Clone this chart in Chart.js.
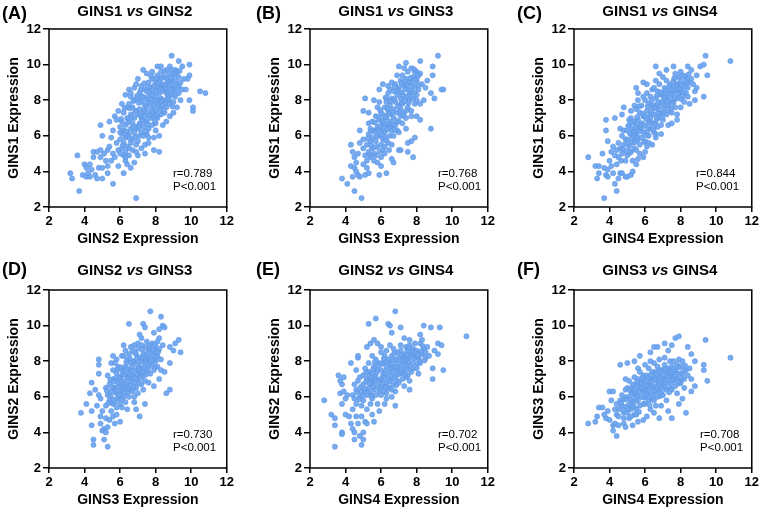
<!DOCTYPE html>
<html>
<head>
<meta charset="utf-8">
<script src="https://cdn.jsdelivr.net/npm/chart.js@4"></script>
<style>
  body { margin: 0; background: #fff; }
  #wrap { position: relative; width: 761px; height: 512px; overflow: hidden; }
  #wrap canvas { position: absolute; }
  .tag { position: absolute; font: bold 18px "Liberation Sans", Arial, sans-serif; line-height: 18px; color: #000; }
</style>
</head>
<body>
<div id="wrap">
  <canvas id="cA" width="236" height="256" style="left:0;top:0"></canvas>
  <canvas id="cB" width="236" height="256" style="left:261px;top:0"></canvas>
  <canvas id="cC" width="236" height="256" style="left:525px;top:0"></canvas>
  <canvas id="cD" width="236" height="256" style="left:0;top:256px"></canvas>
  <canvas id="cE" width="236" height="256" style="left:261px;top:256px"></canvas>
  <canvas id="cF" width="236" height="256" style="left:525px;top:256px"></canvas>
  <div class="tag" style="left:2px;top:4px">(A)</div>
  <div class="tag" style="left:256px;top:4px">(B)</div>
  <div class="tag" style="left:517px;top:4px">(C)</div>
  <div class="tag" style="left:2px;top:260px">(D)</div>
  <div class="tag" style="left:256px;top:260px">(E)</div>
  <div class="tag" style="left:517px;top:260px">(F)</div>
</div>
<script>
// panel labels and stats
const xGenes = ["GINS2", "GINS3", "GINS4", "GINS3", "GINS4", "GINS4"];
const yGenes = ["GINS1", "GINS1", "GINS1", "GINS2", "GINS2", "GINS3"];
const rValues = ["0.789", "0.768", "0.844", "0.730", "0.702", "0.708"];
const pText = "P<0.001";
const tickValues = [2, 4, 6, 8, 10, 12];

// (A) GINS1 vs GINS2  [GINS2, GINS1]
const gins1Gins2 = [
  [3.2,3.9],[3.3,3.6],[3.6,4.9],[3.7,2.9],[3.9,3.8],[4.0,4.4],[4.1,3.7],[4.1,4.2],[4.2,3.9],[4.3,4.4],[4.3,3.7],[4.4,4.1],
  [4.5,5.1],[4.5,4.8],[4.6,3.8],[4.7,3.6],[4.7,5.1],[4.8,4.2],[4.9,4.8],[4.9,5.2],[4.9,6.6],[5.0,4.2],[5.0,3.6],[5.0,6.0],
  [5.1,5.0],[5.2,4.6],[5.3,5.2],[5.3,4.3],[5.3,3.9],[5.4,5.4],[5.4,6.8],[5.5,4.6],[5.5,5.9],[5.6,3.3],[5.6,5.0],[5.6,6.3],
  [5.7,4.8],[5.7,7.1],[5.8,5.6],[5.8,6.9],[5.9,4.3],[5.9,7.4],
  [6.1,7.8],[6.3,8.3],[6.5,8.6],[6.6,8.2],[6.8,8.7],[6.9,8.9],[7.0,9.2],[7.3,9.7],[7.5,9.5],[7.8,9.6],[8.1,9.9],[8.3,9.9],
  [8.6,9.7],[8.8,9.9],[8.9,10.5],[9.1,9.7],[9.3,10.2],[9.5,9.9],[9.9,10.0],[9.9,9.4],[9.8,9.2],[10.5,8.5],[10.8,8.4],[9.9,8.0],
  [10.1,7.6],[10.1,7.4],[9.3,8.8],[9.5,8.6],[9.2,7.6],[9.0,7.3],[8.8,7.1],[9.4,8.0],
  [6.2,3.9],[6.3,4.6],[6.4,4.4],[6.6,4.2],[6.9,2.5],[6.8,4.5],[7.0,4.9],[7.2,5.3],[7.4,5.0],[7.4,5.5],[7.6,5.6],[7.9,5.2],
  [8.2,5.1],[7.9,5.9],[8.2,6.0],[8.0,6.3],[8.4,6.6],[8.6,6.8],
  [6.0,5.0],[6.1,5.3],[6.2,5.6],[6.0,5.8],[6.3,5.9],[6.1,6.1],[6.2,6.3],[6.4,6.0],[6.0,6.5],[6.3,6.6],[6.1,6.8],[6.4,7.0],
  [6.2,7.3],[6.4,5.4],[6.3,5.1],[6.4,7.6],[6.2,4.9],[6.5,4.9],
  [6.5,5.3],[6.6,5.6],[6.7,5.8],[6.5,6.1],[6.8,6.2],[6.6,6.4],[6.9,6.5],[6.7,6.7],[6.5,6.9],[6.8,7.0],[6.6,7.2],[6.9,7.4],
  [6.7,7.6],[6.5,7.8],[6.8,8.0],[6.9,5.5],[6.7,5.2],[6.6,8.4],
  [7.0,5.7],[7.1,6.0],[7.2,6.2],[7.0,6.4],[7.3,6.5],[7.1,6.7],[7.4,6.8],[7.2,7.0],[7.0,7.2],[7.3,7.3],[7.1,7.5],[7.4,7.7],
  [7.2,7.9],[7.0,8.1],[7.3,8.2],[7.1,8.4],[7.4,8.6],[7.2,8.8],[7.3,6.0],[7.4,7.1],
  [7.5,6.1],[7.6,6.4],[7.8,6.6],[7.5,6.8],[7.7,7.0],[7.9,7.1],[7.6,7.3],[7.8,7.5],[7.5,7.6],[7.7,7.8],[7.9,8.0],[7.6,8.2],
  [7.8,8.3],[7.5,8.5],[7.7,8.7],[7.9,8.8],[7.6,9.0],[7.8,9.2],[7.5,8.0],[7.9,7.7],
  [8.0,6.7],[8.1,7.0],[8.3,7.2],[8.0,7.4],[8.2,7.6],[8.4,7.7],[8.1,7.9],[8.3,8.1],[8.0,8.2],[8.2,8.4],[8.4,8.5],[8.1,8.7],
  [8.3,8.8],[8.0,9.0],[8.2,9.1],[8.4,9.3],[8.1,9.4],[8.3,9.6],[8.2,8.0],[8.4,8.9],
  [8.5,7.3],[8.6,7.6],[8.8,7.8],[8.5,8.0],[8.7,8.2],[8.9,8.3],[8.6,8.5],[8.8,8.7],[8.5,8.8],[8.7,9.0],[8.9,9.1],[8.6,9.3],
  [8.8,9.5],[8.5,9.6],[8.7,8.0],[8.9,8.9],
  [9.0,7.9],[9.1,8.2],[9.3,8.4],[9.0,8.6],[9.2,8.9],[9.1,9.1],[9.3,9.3],[9.0,9.4],[9.2,9.6],[9.4,9.0],[9.1,8.7],
  [6.15,5.45],[6.35,6.25],[6.05,6.95],[6.25,7.55],[6.45,6.75],[6.55,5.85],[6.75,6.45],[6.65,7.05],[6.85,7.35],[6.55,7.55],
  [6.75,7.95],[6.95,8.25],[6.85,5.95],[7.05,6.55],[7.25,6.85],[7.15,7.15],[7.35,7.45],[7.05,7.85],[7.25,8.15],[7.15,8.55],
  [7.35,8.95],[7.45,6.25],[7.55,6.65],[7.65,7.15],[7.85,7.35],[7.55,7.85],[7.75,8.05],[7.65,8.45],[7.85,8.55],[7.55,8.75],
  [7.75,9.35],[7.95,6.85],[8.05,7.15],[8.25,7.45],[8.15,7.75],[8.35,7.95],[8.05,8.45],[8.25,8.65],[8.15,8.95],[8.35,9.25],
  [8.05,9.25],[8.45,7.45],[8.55,7.85],[8.75,8.05],[8.65,8.35],[8.85,8.45],[8.55,8.65],[8.75,8.85],[8.65,9.15],[8.85,9.25],
  [8.95,7.65],[9.05,8.35],[9.25,8.65],[9.15,9.45],[9.35,9.65],[6.3,4.8],[6.9,5.1],[7.6,5.9],[5.9,5.2],[6.0,6.2],
  [8.9,9.7],[9.6,9.2],[9.7,8.6]
];

// (B) GINS1 vs GINS3  [GINS3, GINS1]
const gins1Gins3 = [
  [3.8,3.6],[4.1,3.3],[4.5,2.9],[4.9,2.5],[4.3,5.5],[4.4,5.1],[4.3,4.3],[4.5,4.2],[4.4,3.7],[4.6,4.0],[4.7,3.8],[4.8,3.7],
  [4.6,4.5],[4.5,4.8],[4.7,5.0],[4.8,5.6],[4.8,6.3],[5.0,7.4],[5.1,8.1],[5.3,7.3],[5.3,6.7],[5.0,4.4],[5.1,3.8],[5.2,4.2],
  [5.3,3.9],[5.0,5.8],[5.9,3.8],[6.3,3.9],[6.0,4.3],[6.7,4.5],[7.0,5.2],[7.1,5.2],[7.5,5.1],[7.5,5.6],[7.7,5.7],[7.9,5.9],
  [7.8,4.8],[7.7,7.1],[8.0,7.1],[8.8,6.4],[8.2,6.9],[8.2,7.8],[8.4,8.0],[8.5,8.7],[8.8,8.4],[9.0,8.1],[9.4,8.6],[9.5,8.6],
  [9.2,10.5],[8.9,9.9],[8.9,9.4],[8.6,9.1],[8.2,10.2],[8.2,9.5],[7.4,10.1],[7.0,9.9],[6.4,8.8],[5.9,8.6],[6.1,8.9],[6.3,8.1],
  [6.6,9.0],[5.6,8.0],[8.3,8.9],[8.0,9.6],
  [5.2,4.6],[5.4,4.8],[5.3,5.1],[5.5,5.3],[5.2,5.5],[5.4,5.7],[5.6,5.0],[5.5,5.9],[5.3,6.1],[5.6,6.3],[5.4,6.4],[5.6,4.6],[5.5,6.8],
  [5.7,4.9],[5.9,5.1],[5.8,5.4],[6.0,5.5],[5.7,5.7],[6.1,5.8],[5.9,6.0],[5.7,6.2],[6.0,6.3],[5.8,6.5],[6.1,6.7],[5.9,6.9],
  [5.7,7.1],[6.0,7.3],[5.8,7.6],[6.1,5.2],[6.0,4.8],[5.9,7.9],
  [6.2,5.4],[6.4,5.6],[6.3,5.9],[6.5,6.0],[6.2,6.2],[6.6,6.3],[6.4,6.5],[6.2,6.7],[6.5,6.8],[6.3,7.0],[6.6,7.2],[6.4,7.4],
  [6.2,7.6],[6.5,7.7],[6.3,7.9],[6.6,8.1],[6.4,8.4],[6.2,5.0],[6.6,5.5],[6.5,8.6],
  [6.7,6.0],[6.9,6.3],[6.8,6.6],[7.0,6.8],[6.7,7.0],[7.1,7.1],[6.9,7.3],[6.7,7.5],[7.0,7.7],[6.8,7.9],[7.1,8.1],[6.9,8.3],
  [6.7,8.5],[7.0,8.7],[6.8,8.9],[7.1,9.1],[6.9,9.4],[7.0,6.2],[7.1,7.5],
  [7.2,6.7],[7.4,7.0],[7.3,7.3],[7.5,7.6],[7.2,7.8],[7.6,8.0],[7.4,8.2],[7.2,8.4],[7.5,8.6],[7.3,8.8],[7.6,9.0],[7.4,9.2],
  [7.2,9.4],[7.5,9.6],[7.3,9.8],[7.6,8.4],[7.4,6.4],
  [7.7,7.4],[7.9,7.8],[7.8,8.1],[8.0,8.3],[7.7,8.5],[8.1,8.6],[7.9,8.8],[7.7,9.0],[8.0,9.1],[7.8,9.3],[8.1,9.4],[7.9,9.6],
  [7.7,9.8],[8.0,8.0],
  [5.35,4.95],[5.45,5.45],[5.25,5.85],[5.45,6.25],[5.65,5.35],[5.75,5.95],[5.85,6.35],[5.65,6.75],[5.95,6.55],[5.85,7.05],
  [6.05,6.05],[6.15,6.45],[6.05,6.85],[6.15,7.15],[5.95,7.45],[6.25,5.75],[6.35,6.35],[6.45,6.65],[6.25,7.05],[6.45,7.25],
  [6.35,7.55],[6.55,7.95],[6.25,8.15],[6.55,6.55],[6.75,6.35],[6.85,6.85],[6.65,7.35],[6.95,7.65],[6.75,8.05],[6.95,8.55],
  [6.75,8.75],[6.65,6.65],[7.05,7.35],[7.15,7.85],[7.25,8.25],[7.05,8.45],[7.35,8.65],[7.15,8.95],[7.35,9.05],[7.25,7.15],
  [7.45,7.45],[7.55,7.85],[7.35,7.95],[7.65,8.25],[7.45,8.85],[7.65,9.25],[7.85,8.45],[7.75,8.75],[7.95,9.15],[7.85,9.75],
  [8.15,8.85],[8.05,9.35],[6.6,4.7],[5.8,4.5],[6.45,5.2],[5.1,4.9],[5.0,5.3]
];

// (C) GINS1 vs GINS4  [GINS4, GINS1]
const gins1Gins4 = [
  [2.8,4.8],[3.2,4.3],[3.4,4.3],[3.3,3.6],[3.4,3.9],[3.7,2.5],[3.6,5.0],[3.7,4.2],[3.8,3.8],[3.9,4.1],[3.9,3.7],[3.8,6.3],
  [3.8,6.9],[3.9,5.7],[4.0,4.6],[4.1,4.3],[4.1,5.1],[4.2,3.9],[4.2,5.4],[4.3,7.0],[4.3,3.3],[4.4,2.9],[4.4,4.4],[4.5,3.6],
  [4.6,6.4],[4.6,3.9],[4.7,7.2],[4.7,3.9],[4.8,7.6],[4.9,3.7],[5.0,3.7],[5.1,6.9],[5.2,3.8],[5.3,4.0],[5.5,8.7],[5.6,8.4],
  [5.9,9.0],[6.1,8.9],[6.6,9.9],[6.8,9.5],[7.2,9.7],[7.6,9.9],[8.0,9.6],[8.4,9.9],[8.6,9.7],[8.9,9.4],[9.1,9.9],[9.3,10.0],
  [9.4,10.5],[9.5,9.4],[10.8,10.2],[9.3,8.2],[8.8,8.0],[8.9,8.7],[8.8,8.5],[8.5,7.8],[7.8,6.9],[7.5,6.7],[6.9,6.1],[6.6,5.9],
  [6.4,5.5],[6.0,5.1],[5.9,4.8],[5.6,4.7],[5.5,4.4],
  [4.5,4.8],[4.7,5.0],[4.6,5.3],[4.8,5.5],[4.9,5.8],[4.7,6.0],[4.9,4.6],[4.8,6.3],[4.5,5.6],
  [5.0,4.9],[5.2,5.1],[5.1,5.4],[5.3,5.6],[5.0,5.8],[5.4,5.9],[5.2,6.1],[5.0,6.3],[5.3,6.4],[5.1,6.6],[5.4,6.8],[5.2,7.0],
  [5.3,4.6],[5.4,5.3],[5.2,7.4],[5.4,7.7],
  [5.5,5.2],[5.7,5.5],[5.6,5.8],[5.8,5.9],[5.5,6.1],[5.9,6.2],[5.7,6.4],[5.5,6.6],[5.8,6.7],[5.6,6.9],[5.9,7.1],[5.7,7.3],
  [5.5,7.5],[5.8,7.7],[5.6,8.0],[5.9,8.2],[5.7,5.0],[5.8,6.4],
  [6.0,5.7],[6.2,6.0],[6.1,6.2],[6.3,6.4],[6.0,6.6],[6.4,6.7],[6.2,6.9],[6.0,7.1],[6.3,7.2],[6.1,7.4],[6.4,7.6],[6.2,7.8],
  [6.0,8.0],[6.3,8.2],[6.1,8.4],[6.4,8.6],[6.2,5.6],[6.3,7.0],
  [6.5,6.2],[6.7,6.5],[6.6,6.8],[6.8,7.0],[6.5,7.2],[6.9,7.3],[6.7,7.5],[6.5,7.7],[6.8,7.9],[6.6,8.1],[6.9,8.3],[6.7,8.5],
  [6.5,8.7],[6.8,8.9],[6.6,9.1],[6.9,6.6],[6.7,7.8],
  [7.0,6.9],[7.2,7.2],[7.1,7.5],[7.3,7.7],[7.0,7.9],[7.4,8.0],[7.2,8.2],[7.0,8.4],[7.3,8.5],[7.1,8.7],[7.4,8.9],[7.2,9.1],
  [7.0,9.3],[7.3,6.6],[7.4,7.4],[7.1,8.1],
  [7.5,7.3],[7.7,7.6],[7.6,7.9],[7.8,8.1],[7.5,8.3],[7.9,8.4],[7.7,8.6],[7.5,8.8],[7.8,8.9],[7.6,9.1],[7.9,9.3],[7.7,9.5],
  [7.8,7.2],[7.6,8.5],
  [8.0,7.6],[8.2,7.9],[8.1,8.2],[8.3,8.4],[8.0,8.6],[8.4,8.7],[8.2,8.9],[8.0,9.1],[8.3,9.2],[8.1,9.4],[8.5,9.0],[8.4,8.2],
  [4.65,4.6],[4.75,5.25],[4.95,5.15],[5.15,5.05],[5.05,5.55],[5.25,5.85],[5.15,6.15],[5.35,6.25],[5.05,6.55],[5.25,6.75],
  [5.45,5.65],[5.55,5.95],[5.65,6.25],[5.45,6.45],[5.75,6.65],[5.55,7.05],[5.85,7.25],[5.65,7.65],[5.95,5.65],[6.05,6.05],
  [6.15,6.45],[6.25,6.75],[6.05,6.95],[6.35,7.35],[6.15,7.65],[6.35,7.95],[6.45,6.35],[6.55,6.65],[6.65,7.05],[6.75,7.25],
  [6.55,7.55],[6.85,7.65],[6.65,8.25],[6.85,8.45],[6.95,7.05],[7.05,7.35],[7.15,7.75],[7.25,7.95],[7.05,8.15],[7.35,8.35],
  [7.15,8.55],[7.35,8.75],[7.45,7.55],[7.55,7.85],[7.65,8.15],[7.85,8.35],[7.55,8.55],[7.75,8.85],[7.65,9.25],[7.95,8.65],
  [8.05,8.05],[8.15,8.45],[8.25,8.75],[8.05,8.85],[8.35,9.05],[8.25,9.35],[8.45,9.45],[8.6,9.2],[8.7,8.9],[4.4,5.2],
  [4.3,4.9],[6.1,5.4],[6.6,6.1]
];

// (D) GINS2 vs GINS3  [GINS3, GINS2]
const gins2Gins3 = [
  [3.8,5.1],[4.1,5.6],[4.3,6.2],[4.4,6.8],[4.4,5.2],[4.4,4.4],[4.5,3.6],[4.5,3.3],[4.6,6.4],[4.7,5.5],[4.8,8.1],[4.8,7.8],
  [4.8,7.3],[4.8,6.1],[4.9,5.9],[4.9,4.9],[4.9,4.5],[5.0,5.2],[5.0,4.1],[5.1,4.2],[5.1,3.6],[5.2,4.8],[5.2,4.0],[5.3,3.2],
  [5.3,4.3],[5.4,4.7],[5.6,4.9],[5.7,4.5],[5.8,5.0],[6.0,4.6],[6.1,8.3],[5.8,8.1],[5.5,7.9],[5.6,8.3],[6.2,8.9],[6.5,10.1],
  [6.6,8.8],[7.0,9.0],[7.1,9.5],[7.3,10.1],[7.4,9.9],[7.2,9.3],[7.7,10.8],[7.9,9.6],[8.2,9.8],[8.3,10.5],[8.4,10.0],[8.2,9.3],
  [8.5,9.9],[8.8,8.8],[9.0,8.6],[9.1,9.0],[9.3,9.2],[9.4,8.5],[8.8,7.9],[8.8,6.4],[8.6,6.2],[8.3,7.5],[8.2,7.0],[8.5,7.4],
  [7.9,6.6],[7.6,6.8],[7.4,5.6],[7.1,4.9],[6.9,5.3],[6.8,5.7],[6.4,5.3],[6.1,5.4],
  [5.2,5.5],[5.4,5.8],[5.3,6.1],[5.5,6.3],[5.2,6.5],[5.6,5.6],[5.4,6.7],[5.6,7.0],[5.3,7.2],[5.5,5.2],[5.6,7.5],
  [5.7,5.7],[5.9,5.9],[5.8,6.2],[6.0,6.3],[5.7,6.5],[6.1,6.6],[5.9,6.8],[5.7,7.0],[6.0,7.1],[5.8,7.3],[6.1,7.5],[5.9,7.7],
  [5.7,7.9],[6.0,5.6],[6.1,6.0],[5.8,5.4],
  [6.2,6.0],[6.4,6.2],[6.3,6.5],[6.5,6.7],[6.2,6.9],[6.6,7.0],[6.4,7.2],[6.2,7.4],[6.5,7.5],[6.3,7.7],[6.6,7.9],[6.4,8.1],
  [6.2,8.3],[6.5,8.4],[6.3,5.7],[6.6,6.4],[6.4,7.6],[6.5,6.0],
  [6.7,6.3],[6.9,6.5],[6.8,6.8],[7.0,7.0],[6.7,7.2],[7.1,7.3],[6.9,7.5],[6.7,7.7],[7.0,7.8],[6.8,8.0],[7.1,8.2],[6.9,8.4],
  [6.7,8.6],[7.0,8.7],[6.8,8.9],[7.0,6.2],[7.1,7.6],[6.8,6.0],
  [7.2,6.7],[7.4,6.9],[7.3,7.2],[7.5,7.4],[7.2,7.6],[7.6,7.7],[7.4,7.9],[7.2,8.1],[7.5,8.2],[7.3,8.4],[7.6,8.6],[7.4,8.8],
  [7.2,8.9],[7.5,9.1],[7.6,8.0],[7.3,6.4],
  [7.7,7.3],[7.9,7.5],[7.8,7.8],[8.0,8.0],[7.7,8.2],[8.1,8.3],[7.9,8.5],[7.7,8.7],[8.0,8.8],[7.8,9.0],[8.1,9.1],[7.9,8.1],[8.1,7.7],
  [5.35,5.65],[5.45,6.05],[5.25,6.35],[5.55,6.55],[5.45,6.95],[5.65,5.85],[5.75,6.25],[5.85,6.55],[5.65,6.85],[5.95,7.05],
  [5.85,7.55],[6.05,5.85],[6.15,6.35],[6.05,6.75],[6.15,7.25],[6.05,7.65],[6.25,6.25],[6.35,6.75],[6.45,7.05],[6.25,7.25],
  [6.55,7.25],[6.35,7.95],[6.55,8.15],[6.45,6.45],[6.75,6.55],[6.85,7.05],[6.65,7.45],[6.95,7.25],[6.75,7.95],[6.95,8.15],
  [6.85,8.45],[6.65,6.85],[7.05,6.75],[7.15,7.05],[7.25,7.45],[7.05,7.55],[7.35,7.65],[7.15,7.95],[7.35,8.25],[7.25,8.65],
  [7.45,7.25],[7.55,7.55],[7.65,7.95],[7.45,8.05],[7.75,8.05],[7.55,8.45],[7.85,8.65],[7.65,8.85],[7.95,7.65],[8.05,8.25],
  [7.85,8.35],[8.15,8.55],[7.95,8.95],[8.2,8.7],[8.3,8.1],[8.4,8.9],[5.9,6.1],[6.3,8.6]
];

// (E) GINS2 vs GINS4  [GINS4, GINS2]
const gins2Gins4 = [
  [2.8,5.8],[3.2,5.0],[3.4,4.8],[3.4,4.4],[3.4,3.2],[3.6,7.2],[3.7,6.9],[3.7,6.2],[3.8,6.7],[3.8,5.6],[3.8,4.0],[3.8,3.9],
  [3.9,7.1],[3.9,6.3],[4.0,5.9],[4.0,5.0],[4.1,6.1],[4.2,4.9],[4.3,7.9],[4.3,4.5],[4.4,4.2],[4.4,5.3],[4.5,3.6],[4.5,4.0],
  [4.6,4.9],[4.6,7.5],[4.7,8.2],[4.7,8.3],[4.7,4.5],[4.8,3.8],[4.9,3.3],[4.9,4.9],[5.0,3.6],[5.0,4.0],[5.1,4.6],[5.2,4.5],
  [5.2,8.8],[5.3,10.1],[5.4,9.0],[5.6,9.2],[5.7,10.4],[5.8,9.0],[6.0,8.8],[6.4,10.1],[6.5,10.0],[6.6,9.6],[6.8,10.8],[7.1,9.9],
  [7.3,9.3],[7.6,9.2],[8.2,9.5],[8.4,10.0],[8.8,9.9],[9.3,9.9],[9.2,9.0],[9.4,8.9],[9.2,8.4],[9.0,8.6],[10.8,9.4],[9.5,7.5],
  [8.9,7.6],[8.9,7.0],[8.5,8.2],[7.6,6.4],[7.3,6.6],[6.8,5.5],[6.6,6.0],[5.5,5.0],[5.6,4.6],[5.9,5.2],[6.2,5.6],
  [4.4,6.1],[4.6,6.4],[4.5,6.7],[4.8,6.0],[4.7,6.9],[4.9,6.3],[4.6,5.6],[4.8,7.1],[4.9,5.5],[4.5,5.9],
  [5.0,5.8],[5.2,6.1],[5.1,6.3],[5.3,6.5],[5.0,6.7],[5.4,6.9],[5.2,7.0],[5.0,7.2],[5.3,7.4],[5.1,7.6],[5.4,5.6],[5.2,5.3],
  [5.3,7.9],[5.4,6.2],
  [5.5,5.9],[5.7,6.1],[5.6,6.4],[5.8,6.6],[5.5,6.8],[5.9,6.9],[5.7,7.1],[5.5,7.3],[5.8,7.5],[5.6,7.7],[5.9,7.9],[5.7,8.1],
  [5.5,8.3],[5.8,5.6],[5.9,6.3],[5.6,7.0],
  [6.0,6.1],[6.2,6.3],[6.1,6.6],[6.3,6.8],[6.0,7.0],[6.4,7.1],[6.2,7.3],[6.0,7.5],[6.3,7.7],[6.1,7.9],[6.4,8.1],[6.2,8.3],
  [6.0,8.5],[6.3,5.9],[6.4,6.5],[6.1,7.2],[6.3,8.6],
  [6.5,6.5],[6.7,6.7],[6.6,7.0],[6.8,7.2],[6.5,7.4],[6.9,7.5],[6.7,7.7],[6.5,7.9],[6.8,8.1],[6.6,8.3],[6.9,8.5],[6.7,8.7],
  [6.5,8.9],[6.9,6.9],[6.8,6.3],[6.6,7.6],
  [7.0,6.8],[7.2,7.0],[7.1,7.3],[7.3,7.5],[7.0,7.7],[7.4,7.8],[7.2,8.0],[7.0,8.2],[7.3,8.4],[7.1,8.6],[7.4,8.8],[7.2,7.4],
  [7.4,7.1],[7.1,8.9],
  [7.5,7.2],[7.7,7.4],[7.6,7.7],[7.8,7.9],[7.5,8.1],[7.9,8.2],[7.7,8.4],[7.5,8.6],[7.8,8.7],[7.6,8.9],[7.9,9.0],[7.8,7.6],[7.6,6.9],
  [8.0,7.6],[8.2,7.9],[8.1,8.2],[8.3,8.4],[8.0,8.6],[8.4,8.7],[8.2,9.0],[8.1,7.3],[8.5,8.5],[8.3,9.2],
  [4.65,6.25],[4.75,5.85],[4.85,6.55],[4.95,6.05],[5.05,6.45],[5.15,6.85],[5.25,6.25],[5.35,6.75],[5.15,7.35],[5.35,7.15],
  [5.45,6.05],[5.55,6.55],[5.65,6.85],[5.45,7.05],[5.75,7.35],[5.55,7.55],[5.85,7.75],[5.65,7.95],[5.95,6.45],[6.05,6.75],
  [6.15,7.05],[6.25,7.45],[6.05,7.85],[6.35,7.95],[6.15,8.15],[6.25,6.55],[6.45,6.85],[6.55,7.15],[6.65,7.45],[6.75,7.05],
  [6.55,7.65],[6.85,7.85],[6.65,8.05],[6.75,8.45],[6.85,6.65],[6.95,7.25],[7.05,7.45],[7.15,7.75],[7.25,8.25],[7.05,8.05],
  [7.35,8.05],[7.15,8.35],[7.35,7.25],[7.45,7.55],[7.55,7.95],[7.65,8.25],[7.45,8.35],[7.75,8.55],[7.85,8.15],[7.95,8.45],
  [7.55,8.75],[8.05,7.85],[8.15,8.05],[8.25,8.55],[8.05,8.35],[8.35,8.85],[8.45,8.05],[8.6,8.8],[8.7,8.3],[6.3,6.2],[6.6,6.4]
];

// (F) GINS3 vs GINS4  [GINS4, GINS3]
const gins3Gins4 = [
  [2.8,4.5],[3.2,4.6],[3.3,4.9],[3.4,5.4],[3.6,5.4],[3.7,5.0],[3.8,4.8],[3.9,5.2],[4.0,4.7],[4.1,5.8],[4.0,6.3],[4.2,6.3],
  [4.2,4.4],[4.2,4.1],[4.4,3.8],[4.3,4.5],[4.4,5.0],[4.5,4.4],[4.6,7.8],[4.8,4.5],[4.9,4.3],[4.9,7.0],[5.0,7.9],[5.1,4.8],
  [5.3,4.4],[5.4,8.0],[5.6,4.6],[5.7,8.3],[5.9,4.7],[6.1,4.9],[6.3,8.5],[6.5,8.8],[6.7,8.8],[7.1,9.0],[7.3,8.6],[7.5,8.9],
  [7.7,9.3],[7.9,9.4],[8.4,8.8],[8.6,8.4],[8.8,8.0],[9.4,9.2],[9.3,7.8],[9.3,7.5],[9.5,6.9],[10.8,8.2],[8.8,6.6],[8.6,6.3],
  [8.3,5.1],[8.1,5.9],[7.9,5.6],[7.5,4.8],[7.3,5.2],[6.8,4.8],[6.5,5.1],[6.9,5.5],
  [4.5,5.3],[4.7,5.5],[4.6,5.8],[4.8,5.1],[4.9,5.9],[4.7,6.1],[4.5,4.9],[4.9,6.4],[4.8,4.8],
  [5.0,5.1],[5.2,5.3],[5.1,5.6],[5.3,5.8],[5.0,6.0],[5.4,6.1],[5.2,6.3],[5.0,6.5],[5.3,6.7],[5.1,6.9],[5.4,5.0],[5.2,4.9],
  [5.4,7.1],[5.3,5.5],
  [5.5,5.3],[5.7,5.5],[5.6,5.8],[5.8,6.0],[5.5,6.2],[5.9,6.3],[5.7,6.5],[5.5,6.7],[5.8,6.8],[5.6,7.0],[5.9,7.2],[5.7,7.4],
  [5.5,5.0],[5.9,5.6],[5.6,7.6],[5.8,6.5],
  [6.0,5.6],[6.2,5.8],[6.1,6.0],[6.3,6.2],[6.0,6.4],[6.4,6.5],[6.2,6.7],[6.0,6.9],[6.3,7.0],[6.1,7.2],[6.4,7.4],[6.2,7.6],
  [6.0,7.8],[6.3,5.3],[6.4,5.9],[6.1,6.6],[6.3,8.0],
  [6.5,5.8],[6.7,6.0],[6.6,6.3],[6.8,6.4],[6.5,6.6],[6.9,6.7],[6.7,6.9],[6.5,7.1],[6.8,7.2],[6.6,7.4],[6.9,7.5],[6.7,7.7],
  [6.5,7.9],[6.8,8.1],[6.9,6.2],[6.6,5.5],
  [7.0,6.1],[7.2,6.4],[7.1,6.6],[7.3,6.8],[7.0,7.0],[7.4,7.1],[7.2,7.3],[7.0,7.5],[7.3,7.6],[7.1,7.8],[7.4,8.0],[7.2,5.8],
  [7.4,6.5],[7.1,8.2],
  [7.5,6.4],[7.7,6.6],[7.6,6.9],[7.8,7.0],[7.5,7.2],[7.9,7.3],[7.7,7.5],[7.5,7.7],[7.8,7.8],[7.6,8.0],[7.9,8.1],[7.8,6.2],[7.6,7.4],
  [8.0,6.8],[8.2,7.0],[8.1,7.3],[8.3,7.5],[8.0,7.7],[8.4,7.2],[8.2,6.5],[8.1,8.0],
  [4.65,5.65],[4.75,5.25],[4.85,5.85],[4.95,5.45],[5.05,5.35],[5.15,5.85],[5.25,6.15],[5.35,5.45],[5.15,6.45],[5.35,6.45],
  [5.45,5.75],[5.55,6.05],[5.65,6.25],[5.45,6.45],[5.75,6.75],[5.55,6.85],[5.85,7.05],[5.65,5.15],[5.95,5.95],[6.05,6.15],
  [6.15,6.35],[6.25,6.55],[6.05,6.65],[6.35,6.85],[6.15,7.05],[6.35,7.25],[6.25,5.55],[6.45,6.05],[6.55,6.35],[6.65,6.55],
  [6.75,6.75],[6.55,6.95],[6.85,7.05],[6.65,7.25],[6.75,7.45],[6.85,6.05],[6.95,6.45],[7.05,6.75],[7.15,6.95],[7.25,7.15],
  [7.05,7.25],[7.35,7.35],[7.15,7.55],[7.35,6.25],[7.45,6.75],[7.55,6.95],[7.65,7.15],[7.45,7.45],[7.75,7.25],[7.55,7.55],
  [7.85,7.65],[7.95,6.75],[8.05,7.05],[8.15,7.45],[8.25,7.75],[7.85,6.85],[8.5,7.6],[8.6,7.0],[4.4,5.6],[4.3,5.3]
];

const panelData = [gins1Gins2, gins1Gins3, gins1Gins4, gins2Gins3, gins2Gins4, gins3Gins4];
const canvasIds = ["cA", "cB", "cC", "cD", "cE", "cF"];

const FONT = '"Liberation Sans", Arial, Helvetica, sans-serif';

// title, frame and r / P text
const panelDecor = {
    id: "panelDecor",
    afterDraw(chart, args, opts) {
        const ctx = chart.ctx;
        const a = chart.chartArea;
        ctx.save();
        ctx.strokeStyle = "#000";
        ctx.lineWidth = 1.5;
        ctx.strokeRect(a.left, a.top, a.right - a.left, a.bottom - a.top);

        // title "GINSx vs GINSy" with italic vs
        const parts = [
            [opts.yGene + " ", "bold 15px " + FONT],
            ["vs", "italic bold 15px " + FONT],
            [" " + opts.xGene, "bold 15px " + FONT]
        ];
        let total = 0;
        parts.forEach(p => { ctx.font = p[1]; total += ctx.measureText(p[0]).width; });
        let x = (a.left + a.right) / 2 - 3 - total / 2;
        const ty = a.top - opts.titleGap;
        ctx.fillStyle = "#000";
        ctx.textBaseline = "middle";
        ctx.textAlign = "left";
        parts.forEach(p => { ctx.font = p[1]; ctx.fillText(p[0], x, ty); x += ctx.measureText(p[0]).width; });

        ctx.font = "11.5px " + FONT;
        ctx.fillText("r=" + opts.r, a.left + opts.statDx, a.top + 145);
        ctx.fillText(pText, a.left + opts.statDx, a.top + 158);
        ctx.restore();
    }
};

const statOffsets = [124, 128, 122, 124, 128, 126];

canvasIds.forEach((id, i) => {
    const top = i < 3;
    new Chart(document.getElementById(id), {
        type: "scatter",
        data: {
            datasets: [{
                data: panelData[i].map(p => ({x: p[0], y: p[1]})),
                backgroundColor: "rgba(108,164,238,0.92)",
                borderColor: "rgba(90,148,230,0.9)",
                borderWidth: 0.6,
                pointRadius: 2.6
            }]
        },
        options: {
            responsive: false,
            devicePixelRatio: 1,
            animation: false,
            layout: { padding: { top: top ? 29 : 34, right: 9, left: 0, bottom: 0 } },
            plugins: {
                legend: { display: false },
                tooltip: { enabled: false },
                panelDecor: {
                    xGene: xGenes[i], yGene: yGenes[i], r: rValues[i],
                    titleGap: top ? 17 : 19, statDx: statOffsets[i]
                }
            },
            scales: {
                x: {
                    min: 2, max: 12,
                    afterFit: s => { s.height = top ? 49 : 44; },
                    afterBuildTicks: s => { s.ticks = tickValues.map(v => ({value: v})); },
                    border: { display: false },
                    grid: { drawOnChartArea: false, drawTicks: true, tickLength: 5, color: "#000", lineWidth: 1.5 },
                    ticks: { color: "#000", padding: 2, maxRotation: 0, font: { family: FONT, size: 13, weight: "bold" } },
                    title: { display: true, text: xGenes[i] + " Expression", color: "#000",
                             padding: { top: 0, bottom: top ? 8 : 3 }, font: { family: FONT, size: 14, weight: "bold" } }
                },
                y: {
                    min: 2, max: 12,
                    afterFit: s => { s.width = 49; },
                    afterBuildTicks: s => { s.ticks = tickValues.map(v => ({value: v})); },
                    border: { display: false },
                    grid: { drawOnChartArea: false, drawTicks: true, tickLength: 6, color: "#000", lineWidth: 1.5 },
                    ticks: { color: "#000", padding: 2, font: { family: FONT, size: 13, weight: "bold" } },
                    title: { display: true, text: yGenes[i] + " Expression", color: "#000",
                             padding: { top: 6, bottom: 0 }, font: { family: FONT, size: 14, weight: "bold" } }
                }
            }
        },
        plugins: [panelDecor]
    });
});
</script>
</body>
</html>
